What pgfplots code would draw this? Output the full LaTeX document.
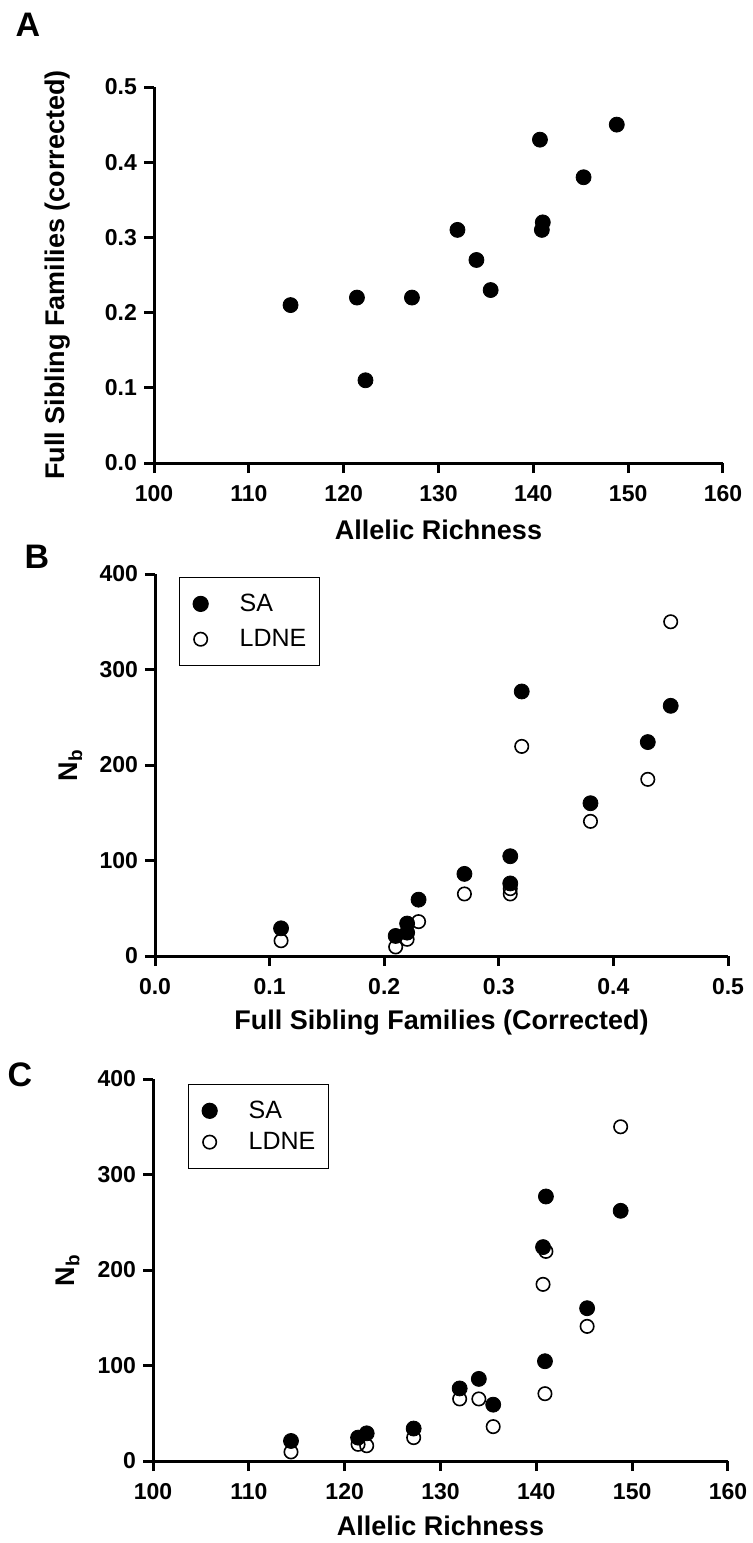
\documentclass[border=0pt]{standalone}
\usepackage{fontspec}
\setmainfont{Liberation Sans}
\usepackage{pgfplots}
\usepackage{pgfplotstable}
\pgfplotsset{compat=1.18}

% full sibling families, allelic richness, Nb (SA), Nb (LDNE)
\pgfplotstableread{
fs   ar    sa    ldne
0.21 114.4 21    9.5
0.22 121.4 24.5  17.5
0.11 122.3 29    16
0.22 127.2 34    24.5
0.31 132.0 76    65
0.27 134.0 86    65
0.23 135.5 59    36
0.43 140.7 224   185
0.32 141.0 277   219.5
0.31 140.9 104.5 70.5
0.38 145.3 160   141
0.45 148.8 262   350
}\nbdata

\pgfplotsset{
  panel/.style={
    scale only axis,
    axis lines=left,
    axis line style={-, line width=1.5pt},
    tick style={line width=1.5pt, black},
    major tick length=5pt,
    tick align=outside,
    ticklabel style={font=\fontsize{11.5}{13}\selectfont\bfseries},
    xticklabel style={yshift=-2.5pt},
    /pgf/number format/assume math mode=true,
    label style={font=\fontsize{13.5}{16}\selectfont\bfseries},
    clip=false,
  },
  samark/.style={only marks, mark=*, mark size=3.75pt,
    mark options={fill=black, draw=none}},
  ldmark/.style={only marks, mark=o, mark size=3.35pt,
    mark options={draw=black, fill=white, line width=0.8pt}},
  nblegend/.style 2 args={
    legend style={at={(axis description cs:#1)}, anchor=north west,
      draw=black, line width=0.6pt, font=\fontsize{12.5}{15}\selectfont,
      inner xsep=4.5pt, inner ysep=6pt, row sep=#2, cells={anchor=west}},
    legend image code/.code={\path[draw=none] (-6pt,-5pt) rectangle (17.5pt,5pt);
      \draw[##1] plot coordinates {(0pt,0pt)};},
  },
}

\begin{document}
\begin{tikzpicture}
\useasboundingbox (0,0) rectangle (376pt,-771.5pt);

% A
\begin{axis}[panel,
  at={(77pt,-231.5pt)}, anchor=south west,
  width=284.5pt, height=188pt,
  xmin=100, xmax=160, ymin=0, ymax=0.5,
  xtick={100,110,...,160}, ytick={0,0.1,...,0.5},
  yticklabel style={/pgf/number format/.cd, fixed, precision=1, zerofill},
  xlabel={Allelic Richness},
  ylabel={Full Sibling Families (corrected)},
  xlabel style={at={(axis description cs:0.5,-0.178)}, anchor=center},
  ylabel style={at={(axis description cs:-0.169,0.5)}, anchor=center},
]
\addplot[samark] table[x=ar, y=fs] {\nbdata};
\end{axis}

% B
\begin{axis}[panel, nblegend={0.042,0.992}{3.5pt},
  at={(77.5pt,-478pt)}, anchor=south west,
  width=286.5pt, height=191pt,
  xmin=0, xmax=0.5, ymin=0, ymax=400,
  xtick={0,0.1,...,0.5}, ytick={0,100,...,400},
  xticklabel style={/pgf/number format/.cd, fixed, precision=1, zerofill},
  xlabel={Full Sibling Families (Corrected)},
  ylabel={N\textsubscript{b}},
  xlabel style={at={(axis description cs:0.5,-0.173)}, anchor=center},
  ylabel style={at={(axis description cs:-0.147,0.5)}, anchor=center},
]
\addplot[samark] table[x=fs, y=sa] {\nbdata};
\addlegendentry{SA}
\addplot[ldmark] table[x=fs, y=ldne] {\nbdata};
\addlegendentry{LDNE\hspace{3pt}}
\end{axis}

% C
\begin{axis}[panel, nblegend={0.061,0.987}{1.5pt},
  at={(76.5pt,-730.5pt)}, anchor=south west,
  width=287.5pt, height=191pt,
  xmin=100, xmax=160, ymin=0, ymax=400,
  xtick={100,110,...,160}, ytick={0,100,...,400},
  xlabel={Allelic Richness},
  ylabel={N\textsubscript{b}},
  xlabel style={at={(axis description cs:0.5,-0.170)}, anchor=center},
  ylabel style={at={(axis description cs:-0.148,0.5)}, anchor=center},
]
\addplot[samark] table[x=ar, y=sa] {\nbdata};
\addlegendentry{SA}
\addplot[ldmark] table[x=ar, y=ldne] {\nbdata};
\addlegendentry{LDNE}
\end{axis}

\node[font=\fontsize{17}{20}\selectfont\bfseries] at (14pt,-12.5pt) {A};
\node[font=\fontsize{17}{20}\selectfont\bfseries] at (18.5pt,-278.5pt) {B};
\node[font=\fontsize{17}{20}\selectfont\bfseries] at (10pt,-537.5pt) {C};
\end{tikzpicture}
\end{document}
